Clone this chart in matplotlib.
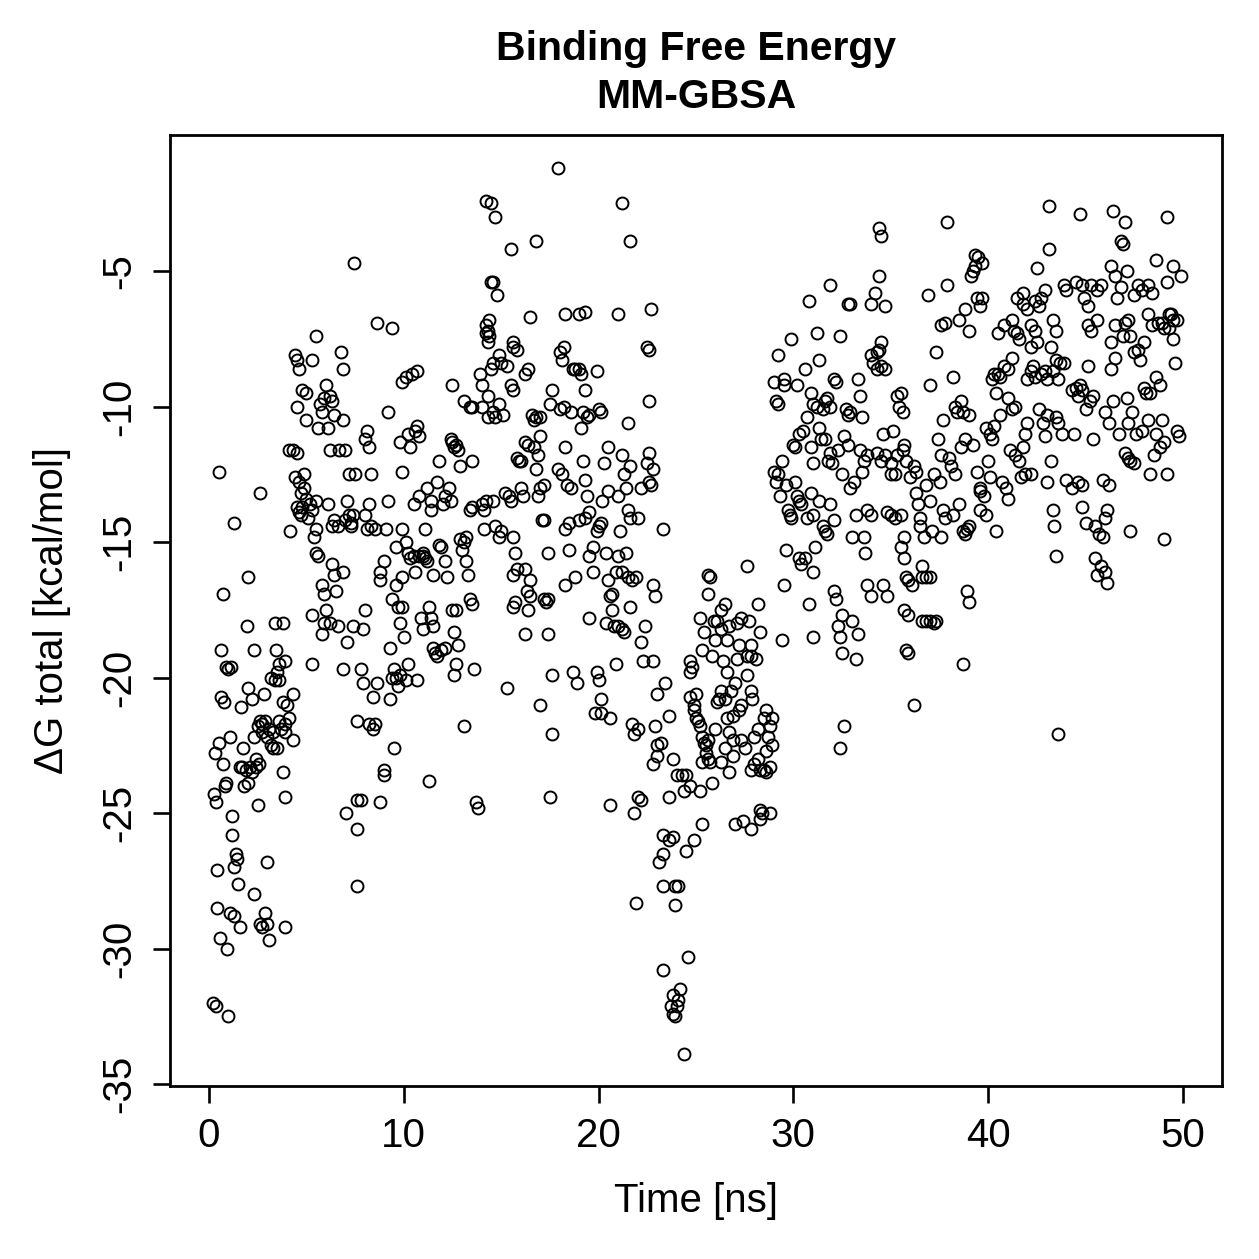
import matplotlib
matplotlib.use('Agg')
import matplotlib.pyplot as plt

plt.rcParams['font.family'] = ['Liberation Sans', 'DejaVu Sans']

# (time [ns], dG total [kcal/mol]), in 5 ns blocks
block_00_04 = [(0.2, -32.0), (0.35, -32.1), (1.0, -32.5), (0.25, -24.3), (0.35, -24.6), (0.3, -22.8),
               (0.5, -12.4), (0.6, -19.0), (0.4, -27.1), (0.4, -28.5), (0.55, -29.6), (0.7, -16.9),
               (0.6, -20.7), (0.75, -20.9), (0.5, -22.4), (0.7, -23.2), (0.85, -23.9), (0.8, -24.0),
               (1.0, -19.7), (1.15, -19.6), (1.3, -14.3), (1.1, -22.2), (1.2, -25.1), (1.2, -25.8),
               (1.4, -26.5), (1.45, -26.7), (1.3, -27.0), (1.5, -27.6), (1.1, -28.7), (1.3, -28.8),
               (1.6, -29.2), (0.95, -30.0), (1.65, -21.1), (1.75, -22.6), (2.0, -16.3), (1.95, -18.1),
               (2.0, -20.4), (2.1, -23.3), (2.2, -23.5), (2.0, -23.9), (2.3, -19.0), (2.5, -21.8),
               (2.3, -22.2), (2.4, -23.3), (2.55, -23.2), (2.5, -24.7), (2.3, -28.0), (2.6, -29.1),
               (2.7, -29.2), (2.6, -13.2), (2.8, -20.6), (2.7, -21.7), (2.9, -21.6), (3.0, -22.2),
               (3.1, -21.9), (3.2, -22.5), (3.3, -22.0), (3.0, -26.8), (2.9, -28.7), (3.0, -29.1),
               (3.1, -29.7), (3.4, -18.0), (3.45, -19.0), (3.5, -19.8), (3.4, -20.1), (3.6, -20.1),
               (3.5, -22.6), (3.7, -21.9), (3.6, -21.6), (3.6, -19.5), (3.9, -19.4), (3.8, -20.9),
               (3.9, -21.7), (4.1, -21.5), (3.9, -22.0), (3.8, -18.0), (3.8, -23.5), (3.9, -24.4),
               (3.9, -29.2), (4.1, -11.6), (4.15, -14.6), (4.3, -22.3), (4.3, -20.6), (2.4, -23.0),
               (2.7, -22.0), (1.7, -23.3), (1.8, -24.0), (0.9, -19.6), (1.6, -23.3), (2.2, -20.8),
               (3.2, -20.0), (3.3, -22.6), (2.6, -21.6), (1.9, -23.4), (4.0, -21.0)]

block_04_09 = [(4.4, -8.1), (4.5, -8.3), (4.6, -8.6), (4.8, -9.4), (5.0, -9.5), (4.5, -10.0),
               (4.5, -11.7), (5.0, -10.5), (5.3, -8.3), (5.5, -7.4), (4.4, -12.6), (4.6, -12.8),
               (4.7, -13.2), (4.5, -13.7), (4.8, -13.7), (5.0, -13.4), (5.1, -14.1), (4.9, -12.5),
               (4.7, -14.0), (5.3, -13.8), (5.5, -13.5), (5.5, -14.5), (5.6, -15.5), (5.5, -15.4),
               (5.8, -16.6), (5.9, -18.0), (5.8, -18.4), (6.2, -18.0), (6.0, -17.5), (5.3, -17.7),
               (5.3, -19.5), (5.6, -10.8), (5.8, -10.2), (5.9, -9.7), (6.0, -9.2), (6.2, -9.6),
               (6.1, -10.8), (6.2, -11.6), (6.4, -10.3), (6.3, -9.8), (6.4, -14.2), (6.3, -14.4),
               (6.3, -15.8), (6.4, -16.2), (6.5, -16.8), (6.6, -14.4), (6.8, -8.0), (6.9, -8.6),
               (6.9, -10.5), (6.7, -11.6), (7.0, -11.6), (6.6, -18.1), (6.9, -19.7), (6.9, -16.1),
               (7.1, -13.5), (7.0, -14.2), (7.2, -14.0), (7.3, -14.3), (7.4, -14.0), (7.3, -14.4),
               (7.2, -12.5), (7.5, -12.5), (7.1, -18.7), (7.4, -18.1), (7.05, -25.0), (7.45, -4.7),
               (7.6, -24.5), (7.8, -24.5), (7.6, -25.6), (7.6, -27.7), (7.6, -21.6), (8.2, -21.7),
               (7.8, -19.7), (7.9, -20.2), (7.9, -18.2), (8.0, -17.5), (8.0, -11.2), (8.1, -10.9),
               (8.2, -11.5), (8.3, -12.5), (8.0, -14.0), (8.1, -14.5), (8.3, -14.4), (8.5, -14.5),
               (8.2, -13.6), (8.4, -20.7), (8.6, -20.2), (8.5, -21.7), (8.4, -21.9), (8.6, -6.9),
               (8.8, -16.1), (8.8, -16.4), (9.0, -15.7), (8.8, -24.6), (9.0, -23.4), (9.0, -23.6),
               (9.2, -10.2), (9.1, -14.5), (4.6, -13.9), (4.9, -13.0), (5.2, -13.6), (5.7, -9.9),
               (6.1, -13.6), (5.4, -14.8), (4.3, -11.6), (5.9, -16.9)]

block_09_14 = [(9.4, -7.1), (9.2, -13.5), (9.4, -17.1), (9.3, -18.9), (9.4, -20.0), (9.3, -20.8),
               (9.6, -20.0), (9.7, -20.3), (9.5, -19.7), (9.8, -19.9), (9.5, -22.6), (9.6, -16.6),
               (9.9, -16.3), (9.7, -17.4), (9.9, -17.4), (9.8, -18.0), (9.6, -15.2), (9.9, -14.5),
               (10.1, -15.0), (9.8, -11.3), (9.9, -12.4), (10.2, -11.0), (10.3, -11.5), (9.9, -9.1),
               (10.1, -8.9), (10.4, -8.8), (10.7, -8.7), (10.0, -18.5), (10.2, -19.5), (10.1, -20.1),
               (10.2, -15.4), (10.3, -15.6), (10.5, -15.5), (10.6, -10.9), (10.7, -10.7), (10.8, -11.1),
               (10.5, -13.6), (10.8, -13.3), (10.6, -16.1), (10.8, -15.5), (11.0, -15.4), (11.1, -15.6),
               (11.2, -15.7), (11.0, -15.5), (10.9, -17.8), (11.0, -18.2), (10.7, -20.1), (11.2, -13.0),
               (11.4, -13.5), (11.4, -13.8), (11.1, -14.5), (11.3, -17.4), (11.4, -17.8), (11.5, -18.1),
               (11.5, -18.9), (11.6, -19.1), (11.3, -23.8), (11.5, -16.2), (11.8, -15.1), (11.9, -15.2),
               (11.7, -12.8), (11.8, -12.0), (12.0, -13.6), (12.1, -13.3), (12.3, -13.0), (11.9, -19.0),
               (11.7, -19.2), (12.1, -18.9), (12.1, -15.7), (12.2, -16.3), (12.4, -11.2), (12.5, -11.3),
               (12.6, -11.5), (12.7, -11.4), (12.8, -11.6), (12.5, -9.2), (12.5, -17.5), (12.7, -17.5),
               (12.6, -18.3), (12.8, -18.8), (12.7, -19.5), (12.6, -19.9), (12.4, -13.5), (12.9, -12.2),
               (12.9, -14.9), (13.1, -15.0), (13.0, -15.3), (13.2, -14.8), (13.1, -21.8), (13.1, -9.8),
               (13.4, -10.0), (13.5, -10.0), (13.5, -12.0), (13.5, -13.7), (13.4, -13.8), (13.2, -15.7),
               (13.3, -16.2), (13.4, -17.1), (13.5, -17.3), (13.6, -19.7), (13.7, -24.6), (13.8, -24.8),
               (13.9, -8.8), (14.0, -9.2)]

block_14_19 = [(14.2, -2.4), (14.5, -2.5), (14.7, -3.0), (14.5, -5.4), (14.6, -5.4), (14.8, -5.9),
               (14.2, -7.0), (14.2, -7.3), (14.3, -7.2), (14.4, -6.8), (14.3, -7.6), (14.4, -7.4),
               (14.6, -8.4), (14.5, -8.6), (14.9, -8.1), (15.0, -8.4), (15.3, -8.5), (14.0, -10.0),
               (14.3, -9.6), (14.3, -10.4), (14.7, -10.4), (14.6, -10.2), (14.9, -9.9), (15.1, -10.3),
               (14.0, -13.6), (14.1, -13.8), (14.2, -13.5), (14.1, -14.5), (14.6, -13.5), (14.7, -14.4),
               (14.9, -14.8), (15.0, -14.6), (15.5, -4.2), (15.6, -7.6), (15.6, -7.8), (15.8, -7.9),
               (15.5, -9.2), (15.6, -9.4), (15.2, -13.2), (15.4, -13.3), (15.5, -13.5), (15.6, -14.8),
               (15.7, -15.4), (15.8, -16.0), (15.6, -16.2), (15.7, -17.2), (15.3, -20.4), (15.6, -17.4),
               (15.8, -11.9), (15.9, -12.0), (16.0, -12.0), (16.2, -11.3), (16.4, -11.4), (16.2, -8.8),
               (16.4, -8.6), (16.0, -13.0), (16.1, -13.3), (16.2, -16.0), (16.3, -16.8), (16.5, -17.0),
               (16.5, -16.4), (16.2, -18.4), (16.4, -17.5), (16.5, -6.7), (16.8, -3.9), (16.6, -10.3),
               (16.7, -10.5), (16.8, -10.4), (17.0, -10.4), (16.7, -11.5), (16.9, -11.8), (17.0, -11.1),
               (16.8, -12.3), (16.9, -13.3), (17.0, -13.0), (17.2, -12.9), (17.1, -14.2), (17.2, -14.2),
               (17.2, -17.1), (17.3, -17.2), (17.4, -17.1), (17.0, -21.0), (17.4, -18.4), (17.6, -19.9),
               (17.6, -22.1), (17.5, -24.4), (17.4, -15.4), (17.6, -9.4), (17.5, -9.9), (17.9, -1.2),
               (18.0, -8.0), (18.1, -8.3), (18.2, -7.8), (18.3, -6.6), (18.0, -10.1), (18.2, -10.0),
               (17.9, -12.3), (18.3, -11.5), (18.1, -12.5), (18.3, -14.5), (18.5, -14.3), (18.6, -13.0),
               (18.4, -12.9), (18.6, -10.2), (18.7, -8.6), (18.8, -8.6), (19.0, -8.6), (19.1, -8.8),
               (19.0, -6.6), (19.3, -6.5), (18.3, -16.6), (18.5, -15.3), (18.7, -19.8), (18.9, -20.2),
               (18.8, -16.3)]

block_19_24 = [(19.1, -10.8), (19.2, -10.2), (19.3, -9.4), (19.4, -10.4), (19.5, -10.3), (19.2, -12.0),
               (19.3, -12.7), (19.4, -13.3), (19.5, -13.9), (19.3, -14.1), (19.0, -14.2), (19.5, -15.5),
               (19.5, -17.8), (19.7, -15.2), (19.7, -16.1), (19.9, -14.6), (20.0, -14.4), (20.1, -14.3),
               (19.9, -8.7), (20.0, -10.1), (20.1, -10.2), (19.9, -19.8), (20.0, -20.1), (20.1, -20.8),
               (19.8, -21.3), (20.1, -21.3), (20.2, -13.5), (20.3, -12.1), (20.5, -11.5), (20.5, -13.1),
               (20.4, -15.4), (20.5, -16.4), (20.7, -16.9), (20.6, -17.0), (20.7, -17.5), (20.9, -16.1),
               (20.6, -24.7), (20.6, -21.5), (20.4, -18.0), (20.8, -18.1), (20.9, -19.5), (21.0, -13.3),
               (21.1, -14.6), (21.0, -15.5), (21.0, -6.6), (21.2, -2.5), (21.2, -11.8), (21.3, -12.5),
               (21.4, -13.0), (21.2, -16.1), (21.0, -18.1), (21.2, -18.2), (21.3, -18.3), (21.5, -10.6),
               (21.6, -12.2), (21.6, -3.9), (21.5, -13.8), (21.6, -14.1), (21.4, -15.4), (21.5, -16.3),
               (21.6, -17.4), (21.7, -21.7), (21.8, -22.1), (22.0, -21.9), (21.8, -25.0), (22.0, -24.4),
               (22.2, -24.5), (21.9, -28.3), (21.7, -16.4), (21.9, -16.3), (22.0, -14.1), (22.2, -13.0),
               (22.2, -18.7), (22.3, -19.4), (22.4, -18.1), (22.5, -12.1), (22.6, -11.7), (22.5, -7.8),
               (22.6, -7.9), (22.7, -6.4), (22.6, -12.8), (22.7, -12.9), (22.8, -12.3), (22.6, -9.8),
               (22.8, -16.6), (22.9, -17.0), (22.8, -19.4), (23.0, -20.6), (22.9, -21.8), (23.3, -14.5),
               (22.8, -23.2), (23.0, -22.5), (23.0, -22.9), (23.2, -22.4), (23.1, -26.8), (23.3, -26.5),
               (23.3, -25.8), (23.3, -27.7), (23.3, -30.8), (23.4, -20.2), (23.6, -21.4), (23.6, -24.4),
               (23.8, -23.0), (23.6, -26.0), (23.8, -25.9), (23.9, -27.7), (23.9, -28.4), (24.1, -27.7),
               (23.7, -32.1), (23.8, -32.4), (23.9, -32.5), (24.0, -32.1), (24.1, -31.9), (24.2, -31.5),
               (23.8, -31.7), (24.4, -33.9), (24.6, -30.3)]

block_24_29 = [(24.0, -23.6), (24.3, -23.6), (24.5, -23.6), (24.4, -24.2), (24.7, -24.0), (24.5, -26.4),
               (24.9, -26.0), (24.7, -19.4), (24.7, -19.8), (24.8, -19.6), (24.7, -20.7), (24.9, -21.0),
               (24.9, -21.2), (25.0, -21.5), (25.1, -21.6), (25.2, -21.8), (25.0, -20.6), (25.3, -22.2),
               (25.4, -22.4), (25.5, -22.8), (25.6, -22.3), (25.5, -22.5), (25.3, -23.1), (25.6, -23.0),
               (25.7, -23.1), (25.2, -24.2), (25.3, -25.4), (25.6, -16.2), (25.7, -16.3), (25.6, -16.9),
               (25.2, -17.8), (25.4, -18.3), (25.3, -19.0), (25.9, -17.9), (26.0, -18.6), (25.8, -19.2),
               (26.1, -20.9), (26.2, -20.8), (26.0, -21.9), (25.8, -23.9), (26.3, -23.1), (26.1, -17.9),
               (26.3, -18.2), (26.6, -18.6), (26.3, -17.5), (26.5, -17.3), (26.7, -18.1), (26.4, -19.4),
               (26.6, -19.8), (26.3, -20.5), (26.5, -20.8), (26.8, -20.5), (26.6, -21.5), (26.9, -21.4),
               (26.7, -22.0), (26.5, -22.6), (26.9, -22.3), (26.9, -22.9), (26.7, -23.5), (27.0, -20.2),
               (27.1, -19.3), (27.2, -18.8), (27.1, -18.0), (27.3, -17.8), (27.0, -25.4), (27.4, -25.3),
               (27.3, -21.0), (27.2, -21.2), (27.3, -22.3), (27.5, -22.6), (27.6, -15.9), (27.6, -19.2),
               (27.6, -19.9), (27.8, -19.2), (27.8, -18.8), (27.7, -17.9), (27.8, -20.5), (27.9, -20.8),
               (27.8, -23.4), (28.0, -23.2), (27.8, -25.6), (28.0, -22.2), (28.2, -21.9), (28.2, -17.3),
               (28.3, -18.3), (28.1, -19.3), (28.2, -23.0), (28.3, -23.4), (28.3, -24.9), (28.4, -25.0),
               (28.3, -25.2), (28.5, -21.5), (28.7, -22.2), (28.9, -22.5), (28.6, -21.2), (28.5, -23.4),
               (28.6, -23.5), (28.8, -23.3), (28.6, -22.7), (28.8, -25.0), (28.9, -21.5), (28.8, -21.8)]

block_29_34 = [(29.0, -9.1), (29.2, -9.9), (29.1, -9.8), (29.5, -9.2), (29.2, -8.1), (29.5, -9.0),
               (29.0, -12.4), (29.2, -12.5), (29.1, -12.8), (29.3, -13.3), (29.4, -12.0), (29.6, -15.3),
               (29.5, -16.6), (29.4, -18.6), (29.7, -13.8), (29.8, -14.0), (29.9, -14.1), (29.9, -7.5),
               (30.0, -11.4), (30.1, -11.5), (30.3, -11.0), (30.5, -10.9), (30.1, -12.8), (30.2, -13.3),
               (30.3, -13.5), (30.4, -13.6), (30.3, -15.6), (30.4, -15.8), (30.6, -15.6), (30.6, -8.6),
               (30.7, -10.4), (30.8, -6.1), (30.9, -11.5), (31.0, -12.1), (30.9, -9.5), (31.0, -9.9),
               (31.2, -10.0), (30.7, -14.1), (31.0, -14.0), (31.0, -18.5), (31.0, -16.1), (30.8, -17.3),
               (31.2, -7.3), (31.3, -8.3), (31.3, -10.8), (31.4, -11.2), (31.3, -13.5), (31.5, -14.4),
               (31.6, -14.6), (31.7, -14.7), (31.6, -11.2), (31.5, -10.1), (31.6, -9.8), (31.7, -9.7),
               (31.9, -10.0), (31.9, -5.5), (31.8, -12.0), (31.9, -11.7), (32.0, -12.1), (31.9, -13.6),
               (32.1, -14.2), (32.1, -9.0), (32.2, -9.1), (32.2, -17.1), (32.1, -16.8), (32.5, -17.7),
               (32.3, -18.1), (32.4, -18.5), (32.5, -19.1), (32.6, -21.8), (32.4, -22.6), (32.4, -7.4),
               (32.5, -12.5), (32.7, -10.1), (32.8, -10.3), (32.9, -10.2), (32.6, -11.1), (32.8, -11.4),
               (32.8, -6.2), (32.9, -6.2), (32.9, -13.0), (33.0, -14.8), (33.2, -14.0), (33.0, -17.9),
               (33.2, -19.3), (33.3, -18.4), (33.3, -9.0), (33.4, -9.6), (33.5, -10.4), (33.4, -11.6),
               (33.6, -12.0), (33.8, -11.8), (33.5, -12.4), (33.8, -13.8), (34.0, -14.0), (33.6, -14.8),
               (33.7, -15.4), (33.8, -16.6), (34.0, -17.0), (34.0, -8.1), (34.1, -8.4), (34.3, -8.6),
               (34.2, -5.8), (34.0, -6.2), (29.6, -12.9), (30.2, -9.2), (30.9, -13.2), (32.3, -11.6),
               (33.1, -12.8), (31.1, -15.2)]

block_34_39 = [(34.4, -3.4), (34.5, -3.7), (34.4, -5.2), (34.7, -6.3), (34.5, -7.6), (34.3, -8.0),
               (34.5, -8.5), (34.7, -8.6), (34.4, -7.9), (34.6, -11.0), (34.3, -11.7), (34.5, -12.0),
               (34.7, -11.8), (35.0, -12.1), (35.0, -12.5), (35.2, -12.5), (35.3, -11.8), (34.8, -13.9),
               (35.0, -14.0), (34.6, -16.6), (34.8, -17.0), (35.3, -9.6), (35.5, -9.5), (35.4, -10.0),
               (35.6, -10.2), (35.6, -11.6), (35.7, -11.4), (35.8, -12.0), (35.2, -14.1), (35.5, -14.0),
               (35.5, -15.2), (35.7, -14.8), (35.7, -15.6), (35.8, -16.3), (35.9, -16.4), (36.1, -16.6),
               (35.7, -17.5), (35.9, -17.7), (35.8, -19.0), (35.9, -19.1), (36.2, -21.0), (36.0, -12.6),
               (36.2, -12.2), (36.3, -12.4), (36.3, -13.2), (36.4, -13.6), (36.5, -14.1), (36.5, -14.4),
               (36.7, -14.8), (36.6, -16.3), (36.8, -16.3), (37.0, -16.3), (36.6, -15.9), (36.6, -17.9),
               (36.8, -17.9), (37.0, -17.9), (37.2, -18.0), (37.3, -17.9), (37.1, -14.6), (37.0, -13.5),
               (37.2, -12.5), (36.9, -5.9), (37.0, -9.2), (37.3, -8.0), (37.6, -7.0), (37.8, -6.9),
               (37.7, -10.5), (37.4, -11.2), (37.6, -11.8), (37.5, -12.8), (37.7, -13.8), (37.8, -14.1),
               (37.6, -14.8), (37.9, -3.2), (37.9, -5.5), (38.2, -8.9), (38.3, -10.0), (38.4, -10.2),
               (38.6, -9.8), (38.7, -10.2), (38.1, -12.2), (38.3, -12.5), (38.5, -13.6), (38.2, -14.0),
               (38.7, -14.6), (38.9, -14.5), (39.0, -14.4), (38.8, -14.7), (38.6, -11.5), (38.8, -11.2),
               (38.7, -19.5), (39.0, -17.2), (38.9, -16.8), (38.5, -6.8), (38.8, -6.4), (39.0, -7.2),
               (39.1, -5.2), (39.3, -4.8), (39.3, -4.4), (39.5, -4.5), (39.7, -4.7), (39.2, -5.0),
               (39.4, -6.0), (39.6, -6.3), (39.7, -6.0), (39.0, -10.3), (39.2, -11.4), (36.8, -12.9),
               (35.1, -10.9), (38.0, -11.9)]

block_39_44 = [(39.4, -12.4), (39.6, -13.0), (39.6, -13.1), (39.8, -13.3), (39.6, -13.8), (39.9, -14.0),
               (39.9, -10.8), (40.1, -11.0), (40.2, -11.2), (40.3, -10.7), (40.0, -12.0), (40.1, -12.6),
               (40.2, -9.0), (40.4, -9.5), (40.3, -8.8), (40.5, -8.8), (40.6, -8.9), (40.4, -14.6),
               (40.7, -12.8), (40.9, -13.0), (41.0, -13.4), (40.8, -8.5), (41.0, -8.6), (41.2, -8.2),
               (41.0, -9.7), (41.2, -10.1), (41.4, -10.0), (40.5, -7.3), (40.8, -7.0), (41.2, -6.8),
               (41.3, -7.2), (41.5, -7.3), (41.6, -7.5), (41.5, -6.0), (41.8, -6.2), (41.8, -5.8),
               (41.4, -11.8), (41.6, -12.0), (41.8, -11.5), (41.9, -11.0), (41.7, -12.6), (41.9, -12.5),
               (42.2, -12.5), (42.0, -9.0), (42.3, -8.5), (42.2, -8.7), (42.4, -8.9), (42.0, -6.4),
               (42.2, -7.0), (42.4, -7.2), (42.2, -7.8), (42.5, -7.6), (42.4, -6.1), (42.6, -6.3),
               (42.7, -6.0), (42.5, -4.9), (42.6, -10.1), (42.8, -10.6), (42.9, -11.1), (43.0, -10.3),
               (42.7, -8.8), (42.9, -8.7), (43.0, -9.0), (43.1, -4.2), (43.1, -2.6), (42.9, -5.7),
               (43.2, -7.8), (43.3, -6.8), (43.5, -7.2), (43.3, -8.7), (43.5, -8.3), (43.6, -9.0),
               (43.2, -12.0), (43.0, -12.8), (43.5, -10.4), (43.6, -10.6), (43.8, -11.0), (43.4, -14.4),
               (43.5, -15.5), (43.3, -13.8), (43.6, -22.1), (43.7, -8.4), (43.9, -8.4), (43.9, -5.5),
               (44.0, -5.7), (44.0, -12.7), (44.3, -13.0), (40.6, -10.3), (41.1, -11.6), (42.0, -10.6)]

block_44_50 = [(44.3, -9.4), (44.5, -9.3), (44.6, -9.6), (44.8, -9.4), (44.7, -9.2), (44.5, -5.4),
               (44.8, -5.5), (44.9, -6.0), (45.1, -6.3), (44.7, -2.9), (44.6, -12.8), (44.8, -12.9),
               (44.8, -13.7), (45.0, -14.3), (45.0, -10.1), (45.2, -9.8), (45.4, -9.6), (45.1, -8.5),
               (45.1, -7.0), (45.3, -7.2), (45.6, -6.8), (45.3, -5.5), (45.6, -5.7), (45.8, -5.5),
               (45.5, -14.4), (45.5, -15.6), (45.6, -16.2), (45.8, -15.9), (46.0, -16.1), (46.1, -16.5),
               (45.7, -14.7), (45.9, -14.8), (46.0, -14.1), (46.1, -13.8), (46.2, -12.9), (45.9, -12.7),
               (46.0, -10.2), (46.2, -10.6), (46.4, -9.8), (46.3, -8.6), (46.5, -8.2), (46.3, -7.6),
               (46.5, -7.0), (46.3, -4.8), (46.5, -5.2), (46.6, -6.0), (46.4, -2.8), (46.8, -3.9),
               (46.9, -4.0), (47.0, -3.2), (46.8, -5.6), (47.1, -5.0), (46.9, -7.4), (47.0, -6.9),
               (47.2, -6.8), (47.3, -7.4), (47.1, -9.7), (47.2, -10.6), (47.4, -10.2), (47.0, -11.7),
               (47.2, -11.9), (47.3, -12.0), (47.5, -12.1), (47.3, -14.6), (47.5, -8.0), (47.7, -7.9),
               (47.8, -8.3), (47.5, -5.9), (47.7, -5.5), (47.9, -5.7), (47.6, -11.0), (47.9, -10.9),
               (48.0, -9.3), (48.1, -9.5), (48.3, -9.5), (48.2, -6.6), (48.4, -7.0), (48.2, -5.5),
               (48.4, -5.8), (48.3, -12.5), (48.2, -10.5), (48.6, -11.0), (48.8, -11.5), (48.5, -11.8),
               (48.6, -4.6), (48.6, -8.9), (48.8, -9.2), (48.7, -6.9), (48.9, -6.9), (49.0, -7.1),
               (49.0, -14.9), (48.9, -10.5), (49.0, -11.3), (49.2, -12.5), (49.2, -3.0), (49.2, -5.4),
               (49.3, -6.6), (49.4, -6.6), (49.5, -6.8), (49.5, -7.5), (49.3, -7.1), (49.5, -4.8),
               (49.6, -8.4), (49.7, -10.9), (49.8, -11.1), (49.7, -6.8), (49.9, -5.2), (45.4, -11.2),
               (46.7, -11.0), (48.0, -7.6), (44.4, -11.0)]

blocks = [block_00_04, block_04_09, block_09_14, block_14_19, block_19_24,
          block_24_29, block_29_34, block_34_39, block_39_44, block_44_50]

time_ns = [p[0] for b in blocks for p in b]
dg_total = [p[1] for b in blocks for p in b]

W = H = 1259
fig = plt.figure(figsize=(12.59, 12.59), dpi=100)
ax = fig.add_axes([170 / W, 1 - 1086 / H, (1222 - 170) / W, (1086 - 135) / H])

ax.plot(time_ns, dg_total, linestyle='none', marker='o', markersize=8.6,
        markerfacecolor='none', markeredgecolor='black', markeredgewidth=1.4)

ax.set_xlim(-2, 52)
ax.set_ylim(-35.07, 0.02)
ax.set_xticks([0, 10, 20, 30, 40, 50])
ax.set_yticks([-35, -30, -25, -20, -15, -10, -5])
ax.set_yticklabels(['-35', '-30', '-25', '-20', '-15', '-10', '-5'], rotation=90, va='center')
ax.tick_params(axis='both', direction='out', length=12.5, width=1.9, labelsize=29, pad=10)
for s in ax.spines.values():
    s.set_linewidth(2.0)

fig.text(696 / W, 1 - 1201 / H, 'Time [ns]', ha='center', va='center', fontsize=29)
fig.text(52 / W, 1 - 610 / H, 'ΔG total [kcal/mol]', ha='center', va='center', fontsize=29, rotation=90)
fig.text(696 / W, 1 - 49 / H, 'Binding Free Energy', ha='center', va='center', fontsize=29.5, fontweight='bold')
fig.text(696 / W, 1 - 97 / H, 'MM-GBSA', ha='center', va='center', fontsize=29.5, fontweight='bold')

fig.savefig('out.png', dpi=100)
